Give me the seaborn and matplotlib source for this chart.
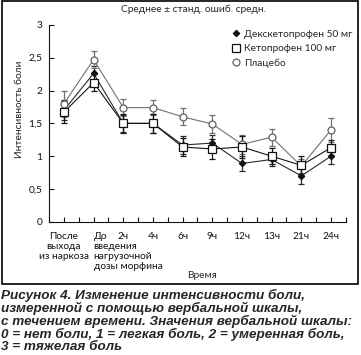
import numpy as np
import pandas as pd
import matplotlib
matplotlib.use('Agg')
import matplotlib.pyplot as plt
import seaborn as sns
from matplotlib.lines import Line2D
from matplotlib.patches import Rectangle

# --- данные ---
time_labels = ['После\nвыхода\nиз наркоза', 'До\nвведения\nнагрузочной\nдозы морфина',
               '2ч', '4ч', '6ч', '9ч', '12ч', '13ч', '21ч', '24ч']
series_names = ['Декскетопрофен 50 мг', 'Кетопрофен 100 мг', 'Плацебо']

dex_mean = [1.70, 2.26, 1.50, 1.50, 1.17, 1.20, 0.89, 0.95, 0.70, 1.00]
dex_sem = [0.15, 0.12, 0.13, 0.14, 0.13, 0.13, 0.12, 0.10, 0.13, 0.12]
keto_mean = [1.67, 2.12, 1.50, 1.50, 1.14, 1.11, 1.14, 1.00, 0.86, 1.13]
keto_sem = [0.17, 0.13, 0.14, 0.14, 0.14, 0.15, 0.17, 0.12, 0.14, 0.12]
plac_mean = [1.80, 2.47, 1.74, 1.74, 1.60, 1.49, 1.18, 1.29, 0.85, 1.40]
plac_sem = [0.20, 0.13, 0.13, 0.12, 0.13, 0.13, 0.14, 0.13, 0.10, 0.18]

y_ticks = [0, 0.5, 1, 1.5, 2, 2.5, 3]
y_ticklabels = ['0', '0,5', '1', '1,5', '2', '2,5', '3']

title_text = 'Среднее ± станд. ошиб. средн.'
caption = ('Рисунок 4. Изменение интенсивности боли,\n'
           'измеренной с помощью вербальной шкалы,\n'
           'с течением времени. Значения вербальной шкалы:\n'
           '0 = нет боли, 1 = легкая боль, 2 = умеренная боль,\n'
           '3 = тяжелая боль')

sns.set_style('ticks')
plt.rcParams['font.family'] = ['Lato', 'DejaVu Sans']
FS = 7.3

fig = plt.figure(figsize=(3.61, 3.55), dpi=100)
ax = fig.add_axes([0.136, 0.375, 0.822, 0.555])

pos = np.arange(len(time_labels))

# стили серий: цвет линии, маркер, заливка, размер
styles = {
    'Декскетопрофен 50 мг': dict(color='#2a2a2a', marker='D', mfc='#111111', mec='#111111', ms=3.2),
    'Плацебо': dict(color='#707070', marker='o', mfc='white', mec='#606060', ms=5),
    'Кетопрофен 100 мг': dict(color='#151515', marker='s', mfc='white', mec='#111111', ms=5.5),
}
data = {
    'Декскетопрофен 50 мг': (dex_mean, dex_sem),
    'Плацебо': (plac_mean, plac_sem),
    'Кетопрофен 100 мг': (keto_mean, keto_sem),
}

for name, (m, s) in data.items():
    st = styles[name]
    df = pd.DataFrame({'t': pos, 'v': m})
    ax.errorbar(pos, m, yerr=s, fmt='none', ecolor=st['color'], elinewidth=0.9,
                capsize=2.5, capthick=0.9, zorder=2)
    sns.lineplot(data=df, x='t', y='v', ax=ax, color=st['color'], linewidth=0.8,
                 marker=st['marker'], ms=st['ms'], mfc=st['mfc'], mec=st['mec'],
                 mew=0.9, sort=False, zorder=3)

ax.set_xlim(-0.5, 9.5)
ax.set_ylim(0, 3)
ax.set_yticks(y_ticks)
ax.set_yticklabels(y_ticklabels)
ax.set_xticks(pos)
ax.set_xticklabels(time_labels, linespacing=1.15)
ax.set_xticks(np.arange(-0.5, 10, 0.5), minor=True)
ax.tick_params(axis='both', which='both', direction='in', length=3.5, width=0.8,
               labelsize=FS, colors='#111111')
ax.tick_params(axis='x', which='major', pad=7)
ax.tick_params(axis='y', pad=5)
for i, lab in enumerate(ax.get_xticklabels()):
    lab.set_verticalalignment('top')
    if i == 1:
        lab.set_horizontalalignment('left')
        lab.set_x(-0.17)
        lab.set_multialignment('left')
ax.set_xlabel('Время', fontsize=FS, va='center')
ax.xaxis.set_label_coords(0.515, -0.27)
ax.set_ylabel('Интенсивность боли', fontsize=FS, va='center')
ax.yaxis.set_label_coords(-0.1, 0.57)
for sp in ['top', 'right']:
    ax.spines[sp].set_visible(False)
for sp in ['left', 'bottom']:
    ax.spines[sp].set_linewidth(0.8)
    ax.spines[sp].set_color('#111111')

handles = []
for name in series_names:
    st = styles[name]
    handles.append(Line2D([], [], linestyle='none', marker=st['marker'], ms=st['ms'],
                          mfc=st['mfc'], mec=st['mec'], mew=0.9))
ax.legend(handles, series_names, loc='upper left', bbox_to_anchor=(0.6, 1.0),
          frameon=False, fontsize=FS, handlelength=0.8, handletextpad=0.4,
          labelspacing=0.5, borderpad=0)

fig.text(0.535, 0.975, title_text, ha='center', va='center', fontsize=FS)

fig.patches.append(Rectangle((0.006, 0.2), 0.986, 0.797, transform=fig.transFigure,
                             fill=False, linewidth=1.2, edgecolor='black'))

fig.text(0.004, 0.186, caption, ha='left', va='top', fontsize=9.7,
         fontweight='bold', fontstyle='italic', family='Liberation Sans',
         linespacing=0.98)

fig.savefig('out.png', dpi=100)
